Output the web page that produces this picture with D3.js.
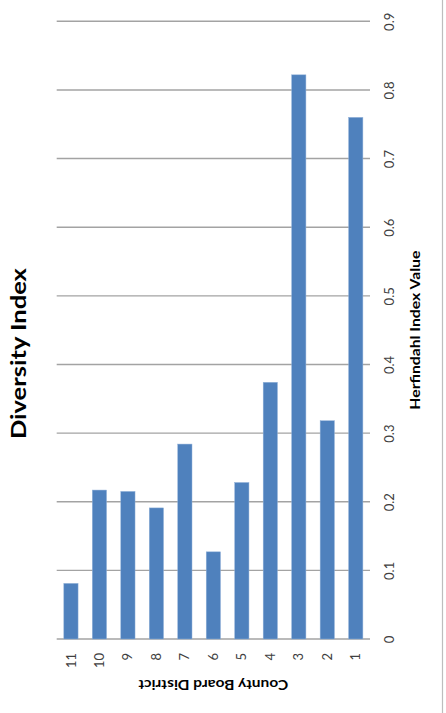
<!DOCTYPE html>
<html>
<head>
<meta charset="utf-8">
<script src="https://cdn.jsdelivr.net/npm/d3@7"></script>
<style>
  html, body { margin: 0; padding: 0; background: #fff; }
  svg { display: block; }
  text { font-family: Lato, "Open Sans", "Liberation Sans", sans-serif; }
</style>
</head>
<body>
<svg id="chart" width="446" height="713"></svg>
<script>
// County board districts, drawn left to right as 11 … 1
const districts = ["11", "10", "9", "8", "7", "6", "5", "4", "3", "2", "1"];
// Herfindahl index value for each district (same order)
const herfindahl = [0.081, 0.217, 0.215, 0.191, 0.284, 0.127, 0.228, 0.374, 0.822, 0.318, 0.760];
// Value axis ticks
const valueTicks = [0, 0.1, 0.2, 0.3, 0.4, 0.5, 0.6, 0.7, 0.8, 0.9];

const chartTitle = "Diversity Index";
const valueTitle = "Herfindahl Index Value";
const categoryTitle = "County Board District";

const svg = d3.select("#chart");

const plot = { left: 56.7, right: 370, top: 21.3, bottom: 639 };

const x = d3.scaleBand()
  .domain(districts)
  .range([plot.left, plot.right])
  .paddingInner(0.5)
  .paddingOuter(0.25);

const y = d3.scaleLinear()
  .domain([0, 0.9])
  .range([plot.bottom, plot.top]);

// outer frame edge on the right
svg.append("line")
  .attr("x1", 442.5).attr("x2", 442.5)
  .attr("y1", 0).attr("y2", 713)
  .attr("stroke", "#bdbdbd").attr("stroke-width", 1.2);

// horizontal gridlines
svg.append("g")
  .selectAll("line")
  .data(valueTicks)
  .join("line")
  .attr("x1", plot.left).attr("x2", plot.right)
  .attr("y1", d => y(d)).attr("y2", d => y(d))
  .attr("stroke", "#a3a3a3")
  .attr("stroke-width", 1.4);

// bars
svg.append("g")
  .selectAll("rect")
  .data(districts.map((d, i) => ({ d, v: herfindahl[i] })))
  .join("rect")
  .attr("x", p => x(p.d))
  .attr("width", x.bandwidth())
  .attr("y", p => y(p.v))
  .attr("height", p => y(0) - y(p.v))
  .attr("fill", "#4f81bd")
  .attr("stroke", "#8fb0d8")
  .attr("stroke-width", 0.5);

// value axis on the right, labels turned to read upward
const yAxis = d3.axisRight(y)
  .tickValues(valueTicks)
  .tickFormat(d => d === 0 ? "0" : d3.format(".1f")(d))
  .tickSize(0);

const yAxisG = svg.append("g")
  .attr("transform", `translate(${plot.right},0)`)
  .call(yAxis);
yAxisG.select(".domain").remove();
yAxisG.selectAll(".tick text")
  .attr("x", 0).attr("y", 0).attr("dy", null)
  .attr("transform", "translate(19.5,0) rotate(-90)")
  .attr("text-anchor", "middle")
  .attr("dy", "0.35em")
  .attr("font-size", 13)
  .attr("fill", "#404040")
  .style("font-family", "Lato, 'Open Sans', sans-serif");

// category axis along the bottom, labels turned to read upward
const xAxis = d3.axisBottom(x).tickSize(0);
const xAxisG = svg.append("g")
  .attr("transform", `translate(0,${plot.bottom})`)
  .call(xAxis);
xAxisG.select(".domain").remove();
xAxisG.selectAll(".tick text")
  .attr("x", 0).attr("y", 0)
  .attr("transform", "translate(0,14) rotate(-90)")
  .attr("text-anchor", "end")
  .attr("dy", "0.35em")
  .attr("font-size", 13)
  .attr("fill", "#404040")
  .style("font-family", "Lato, 'Open Sans', sans-serif");

// chart title on the left
svg.append("text")
  .attr("transform", "translate(26,353.6) rotate(-90)")
  .attr("text-anchor", "middle")
  .attr("font-size", 20)
  .attr("font-weight", "bold")
  .attr("fill", "#000")
  .attr("textLength", 171)
  .attr("lengthAdjust", "spacingAndGlyphs")
  .text(chartTitle);

// value axis title
svg.append("text")
  .attr("transform", `translate(420,${(plot.top + plot.bottom) / 2}) rotate(-90)`)
  .attr("text-anchor", "middle")
  .attr("font-size", 14)
  .attr("font-weight", "bold")
  .attr("fill", "#000")
  .attr("textLength", 159)
  .attr("lengthAdjust", "spacingAndGlyphs")
  .text(valueTitle);

// category axis title (upside down)
svg.append("text")
  .attr("transform", `translate(${(plot.left + plot.right) / 2},679.5) rotate(180)`)
  .attr("text-anchor", "middle")
  .attr("font-size", 13)
  .attr("font-weight", "bold")
  .attr("fill", "#000")
  .attr("textLength", 150)
  .attr("lengthAdjust", "spacingAndGlyphs")
  .text(categoryTitle);
</script>
</body>
</html>
